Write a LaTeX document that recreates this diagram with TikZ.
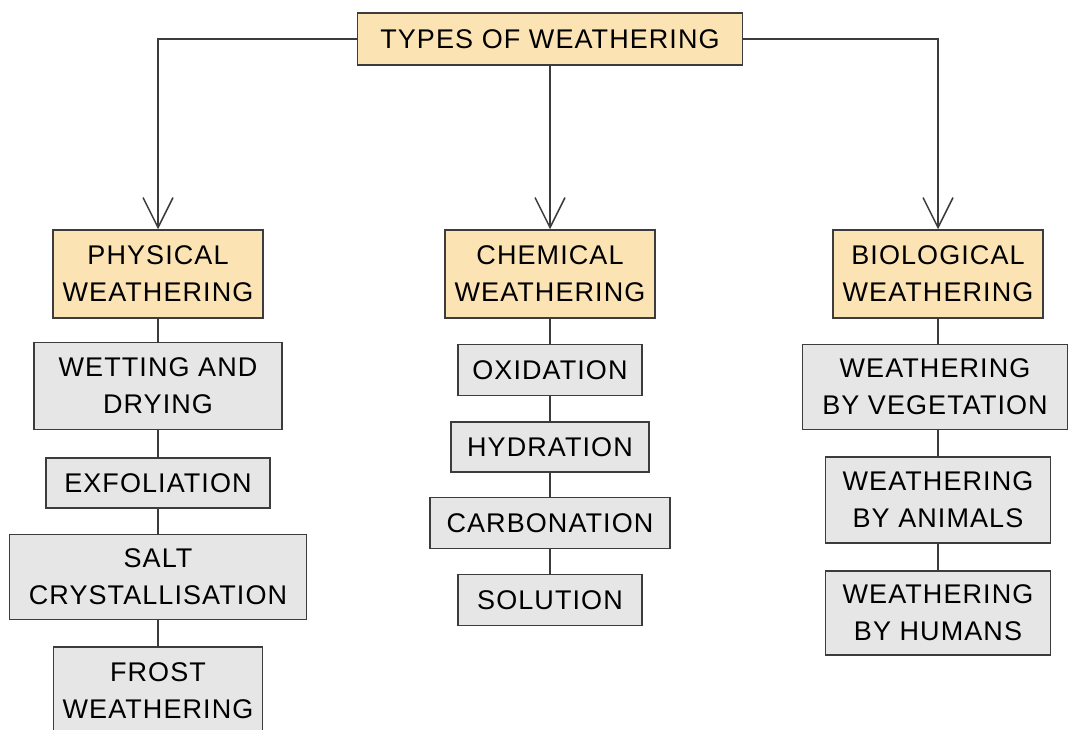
\documentclass[tikz,border=0pt]{standalone}
\usepackage{fontspec}
\setmainfont{Liberation Sans}[LetterSpace=4]
\usetikzlibrary{arrows.meta}

\definecolor{boxorange}{RGB}{252,227,180}
\definecolor{boxgrey}{RGB}{230,230,230}
\definecolor{linegrey}{RGB}{60,60,60}

\begin{document}
\begin{tikzpicture}[x=1pt,y=-1pt]

\useasboundingbox (0,0) rectangle (1068,730);
\clip (0,0) rectangle (1068,730);

\begin{scope}[
    every node/.style={
        draw=linegrey,
        line width=1.5pt,
        fill=boxorange,
        align=center,
        inner sep=0pt,
        font=\fontsize{27}{37}\selectfont}]

    \node[minimum width=385, minimum height=52] (types) at (550,39) {TYPES OF WEATHERING};
    \node[minimum width=210, minimum height=88] (physical) at (158,274) {PHYSICAL\\WEATHERING};
    \node[minimum width=210, minimum height=88] (chemical) at (550,274) {CHEMICAL\\WEATHERING};
    \node[minimum width=210, minimum height=88] (biological) at (938,274) {BIOLOGICAL\\WEATHERING};
\end{scope}


\begin{scope}[
    every node/.style={
        draw=linegrey,
        line width=1.5pt,
        fill=boxgrey,
        align=center,
        inner sep=0pt,
        font=\fontsize{27}{37}\selectfont}]

    \node[minimum width=248, minimum height=87] (wetting) at (158,386) {WETTING AND\\DRYING};
    \node[minimum width=224, minimum height=50] (exfoliation) at (158,483) {EXFOLIATION};
    \node[minimum width=297, minimum height=85] (salt) at (158,577) {SALT\\CRYSTALLISATION};
    \node[minimum width=209, minimum height=88] (frost) at (158,691) {FROST\\WEATHERING};

    \node[minimum width=184, minimum height=51] (oxidation) at (550,370) {OXIDATION};
    \node[minimum width=198, minimum height=50] (hydration) at (550,447) {HYDRATION};
    \node[minimum width=240, minimum height=51] (carbonation) at (550,523) {CARBONATION};
    \node[minimum width=184, minimum height=51] (solution) at (550,600) {SOLUTION};

    \node[minimum width=265, minimum height=85] (vegetation) at (935,387) {WEATHERING\\BY VEGETATION};
    \node[minimum width=225, minimum height=86] (animals) at (938,500) {WEATHERING\\BY ANIMALS};
    \node[minimum width=225, minimum height=84] (humans) at (938,613) {WEATHERING\\BY HUMANS};
\end{scope}


\begin{scope}[>={Straight Barb[length=30pt,width=30pt]},
              every path/.style={draw=linegrey,line width=1.5pt}]

    \draw [->] (types.west) -| (physical.north);
    \draw [->] (types.south) -- (chemical.north);
    \draw [->] (types.east) -| (biological.north);

    \draw (physical) -- (wetting);
    \draw (wetting) -- (exfoliation);
    \draw (exfoliation) -- (salt);
    \draw (salt) -- (frost);

    \draw (chemical) -- (oxidation);
    \draw (oxidation) -- (hydration);
    \draw (hydration) -- (carbonation);
    \draw (carbonation) -- (solution);

    \draw (biological.south) -- (biological.south |- vegetation.north);
    \draw (vegetation.south -| animals.north) -- (animals);
    \draw (animals) -- (humans);
\end{scope}
\end{tikzpicture}
\end{document}
